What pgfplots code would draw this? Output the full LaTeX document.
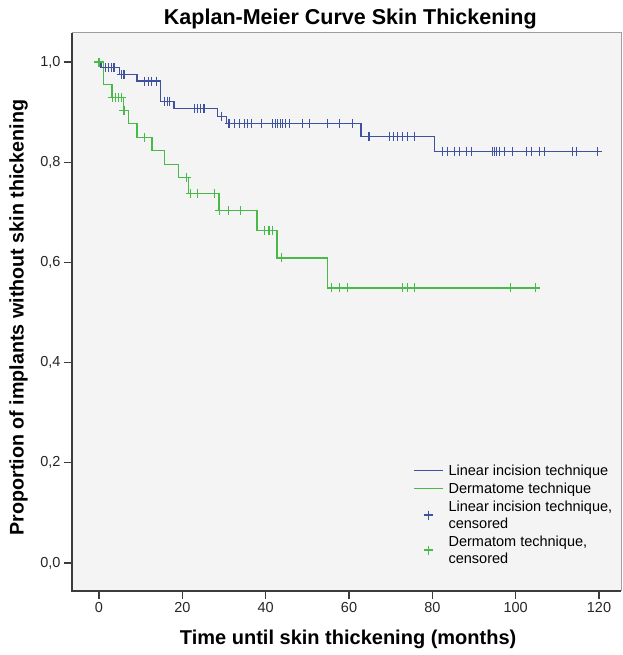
\documentclass[border=0pt]{standalone}
\usepackage{fontspec}
\setmainfont{Liberation Sans}
\usepackage{pgfplots}
\pgfplotsset{compat=1.18}

\definecolor{kmblue}{RGB}{62,82,160}
\definecolor{kmgreen}{RGB}{72,186,72}
\definecolor{kmbg}{RGB}{244,244,244}
\definecolor{frameline}{RGB}{60,60,60}

\pgfplotsset{
  kmline legend/.style={legend image code/.code={\draw[##1] (0pt,0pt) -- (29pt,0pt);}},
  kmmark legend/.style={legend image code/.code={\draw[##1] plot coordinates {(14.5pt,0pt)};}},
}

\begin{document}
\begin{tikzpicture}
% page = 622 x 655, plot box from (72,33) to (621,591) in image pixels
\path[use as bounding box] (-72pt,-64pt) rectangle (550pt,591pt);
\begin{axis}[
  name=km,
  at={(0,0)}, anchor=south west,
  scale only axis,
  width=549pt, height=558pt,
  xmin=-6.48, xmax=125.28,
  ymin=-0.0559, ymax=1.058,
  xtick={0,20,...,120},
  ytick={0,0.2,0.4,0.6,0.8,1.0},
  xtick pos=left, ytick pos=left,
  tick align=outside,
  major tick length=8pt,
  every tick/.style={frameline, line width=1.2pt},
  axis line style={draw=none},
  axis background/.style={fill=kmbg},
  clip=false,
  /pgf/number format/assume math mode=true,
  tick label style={font=\fontsize{14.5}{17}\selectfont, text=black!85},
  yticklabel style={/pgf/number format/.cd, fixed, fixed zerofill, precision=1, use comma},
  title={Kaplan-Meier Curve Skin Thickening},
  title style={at={(axis description cs:0.507,1.0145)}, anchor=center,
    font=\fontsize{21.5}{24}\selectfont\bfseries},
  xlabel={Time until skin thickening (months)},
  ylabel={Proportion of implants without skin thickening},
  every axis x label/.style={at={(axis description cs:0.503,-0.086)}, anchor=center,
    font=\fontsize{20}{22}\selectfont\bfseries},
  every axis y label/.style={at={(axis description cs:-0.0975,0.49)}, anchor=center,
    rotate=90, font=\fontsize{19.7}{22}\selectfont\bfseries},
  legend style={at={(axis cs:75.4,0.201)}, anchor=north west,
    draw=none, fill=none, inner sep=0pt, column sep=3pt, row sep=2pt,
    font=\fontsize{14.5}{17}\selectfont,
    cells={align=left, anchor=west, inner sep=1.5pt}},
  legend cell align=left,
]

% Linear incision technique (Kaplan-Meier steps)
\addplot[const plot, kmblue, line width=1.2pt, kmline legend]
coordinates {
(0,1.000) (0.5,0.989) (5.0,0.975) (9.1,0.962) (14.8,0.922) (18.0,0.908)
(28.5,0.892) (30.6,0.877) (62.9,0.852) (80.6,0.822) (119.8,0.822)
};
\addlegendentry{Linear incision technique}

% Dermatome technique (Kaplan-Meier steps)
\addplot[const plot, kmgreen, line width=1.2pt, kmline legend]
coordinates {
(0,1.000) (1.0,0.955) (3.1,0.930) (5.8,0.904) (7.0,0.878) (9.1,0.850)
(12.7,0.824) (15.8,0.796) (19.0,0.770) (21.4,0.738) (28.8,0.703)
(37.9,0.663) (42.7,0.609) (54.9,0.549) (104.8,0.549)
};
\addlegendentry{Dermatome technique}

% censored, linear incision
\addplot[only marks, mark=+, mark size=4.5pt, kmblue, line width=1.1pt, kmmark legend]
coordinates {
(1.5,0.989) (2.2,0.989) (2.9,0.989) (3.6,0.989)
(5.3,0.975) (6.0,0.975)
(11.0,0.962) (11.8,0.962) (12.5,0.962) (13.9,0.962)
(15.8,0.922) (16.4,0.922) (17.0,0.922)
(23.0,0.908) (23.6,0.908) (24.4,0.908) (25.2,0.908)
(29.4,0.892)
(31.2,0.877) (32.6,0.877) (33.8,0.877) (35.0,0.877) (35.7,0.877) (36.7,0.877)
(39.1,0.877) (41.7,0.877) (42.4,0.877) (42.9,0.877) (43.6,0.877) (44.1,0.877)
(44.8,0.877) (45.8,0.877) (48.9,0.877) (50.6,0.877) (54.9,0.877) (57.8,0.877)
(60.9,0.877)
(64.8,0.852) (69.8,0.852) (70.6,0.852) (71.7,0.852) (72.9,0.852) (74.1,0.852)
(75.8,0.852)
(82.5,0.822) (83.7,0.822) (85.4,0.822) (86.6,0.822) (88.2,0.822) (89.4,0.822)
(94.5,0.822) (95.0,0.822) (95.5,0.822) (96.2,0.822) (97.4,0.822) (99.3,0.822)
(102.6,0.822) (103.8,0.822) (105.8,0.822) (107.0,0.822) (113.7,0.822)
(114.6,0.822) (119.7,0.822)
};
\addlegendentry{Linear incision technique,\\censored}

% censored, dermatome
\addplot[only marks, mark=+, mark size=4.5pt, kmgreen, line width=1.1pt, kmmark legend]
coordinates {
(0,1.000)
(3.3,0.930) (4.0,0.930) (4.7,0.930) (5.4,0.930)
(6.0,0.904)
(11.0,0.850)
(20.9,0.770)
(22.0,0.738) (23.7,0.738) (27.8,0.738)
(29.0,0.703) (31.0,0.703) (33.9,0.703)
(39.8,0.663) (40.8,0.663) (41.7,0.663)
(43.9,0.609)
(55.9,0.549) (57.8,0.549) (59.7,0.549) (72.9,0.549) (74.1,0.549) (75.8,0.549)
(98.8,0.549) (104.8,0.549)
};
\addlegendentry{Dermatom technique,\\censored}

\end{axis}
% frame: light top/right, dark left/bottom
\draw[gray!75, line width=1pt] (km.north west) -- (km.north east) -- (km.south east);
\draw[frameline, line width=1.4pt] (km.north west) -- (km.south west) -- (km.south east);
\end{tikzpicture}
\end{document}
